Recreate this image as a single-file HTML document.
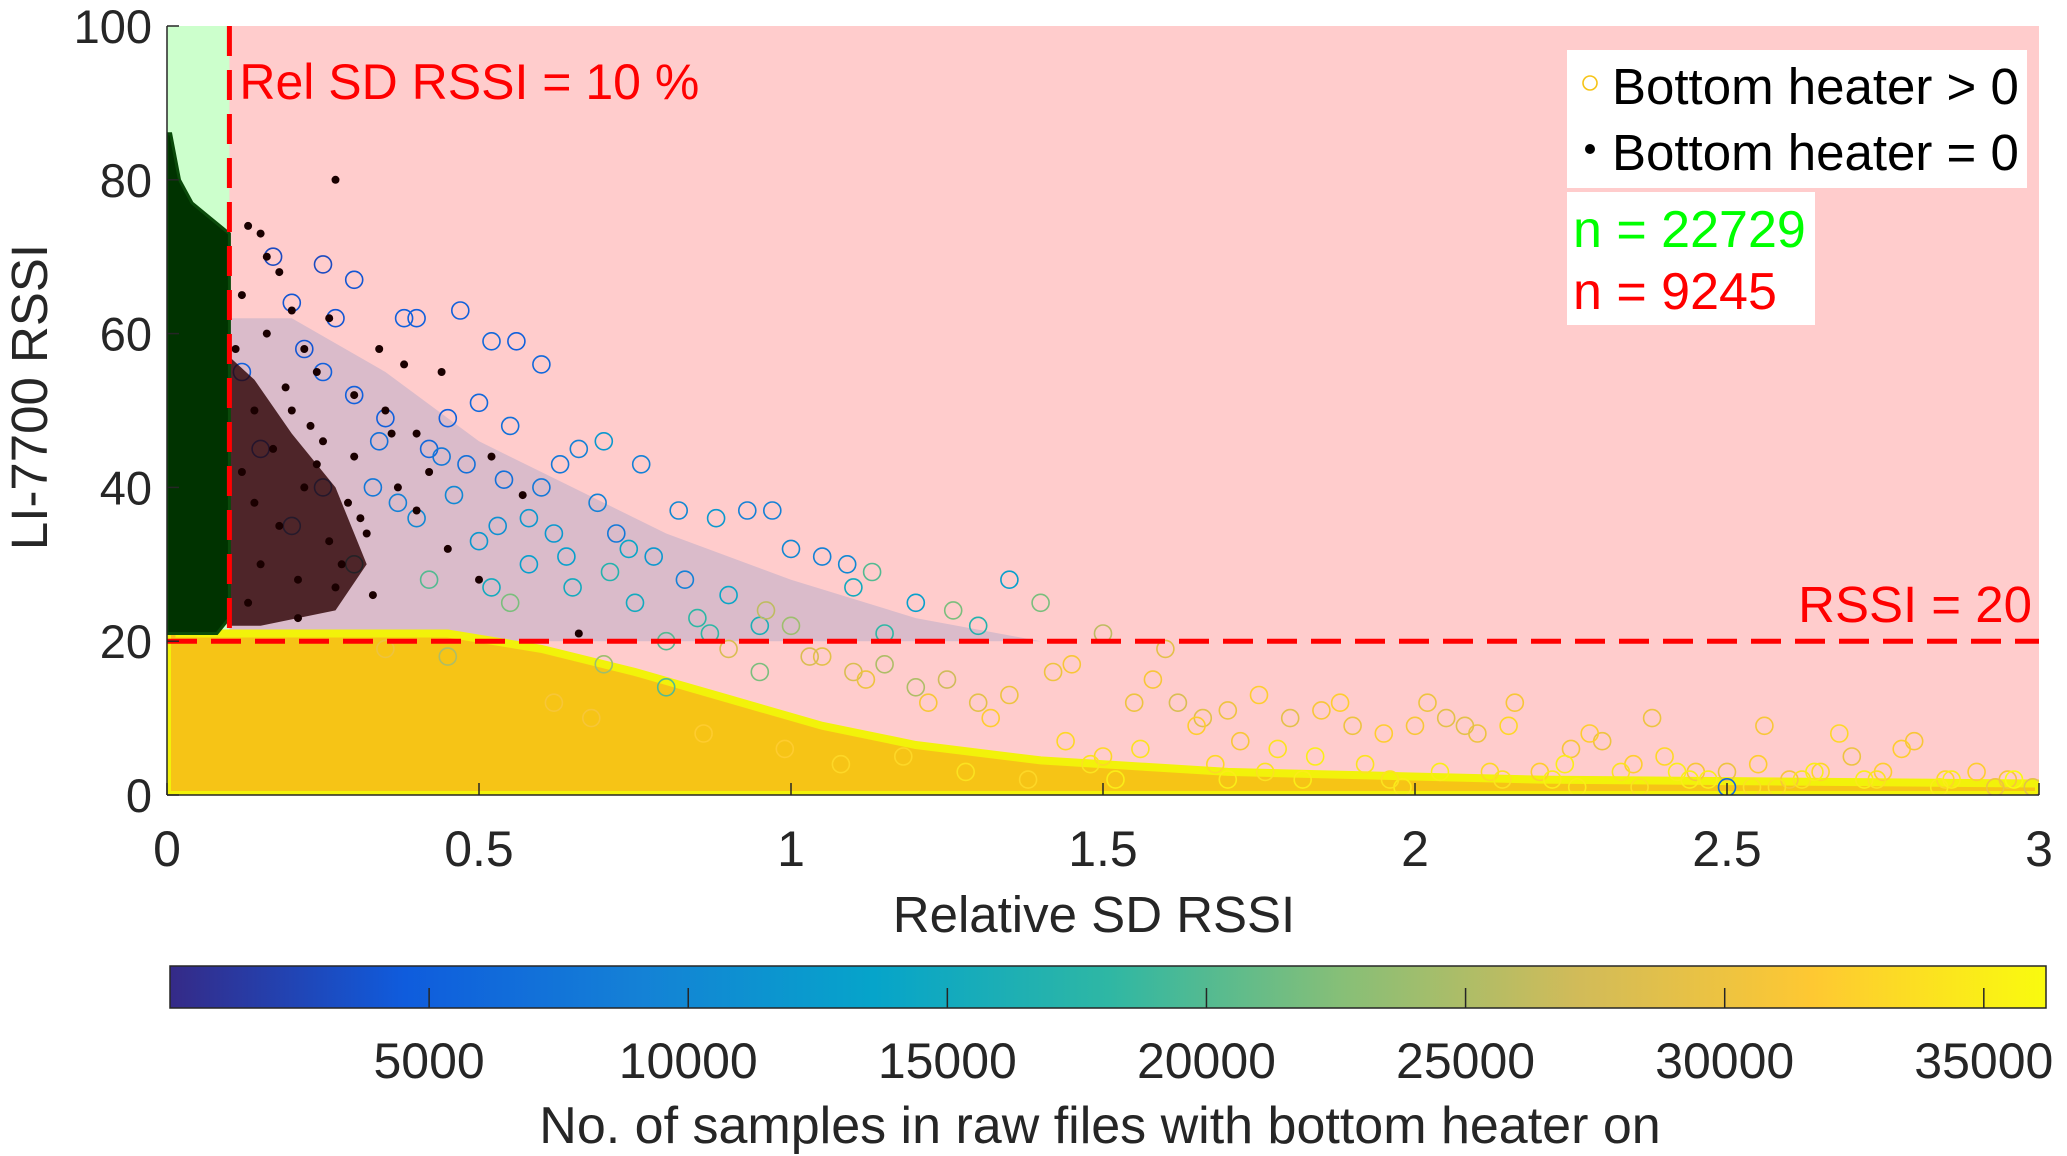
<!DOCTYPE html>
<html><head><meta charset="utf-8"><style>
html,body{margin:0;padding:0;background:#fff;}
svg{display:block;font-family:"Liberation Sans",Arial,sans-serif;}
</style></head><body>
<svg id="chart" width="2067" height="1156" viewBox="0 0 2067 1156" xmlns="http://www.w3.org/2000/svg">
<defs>
<linearGradient id="parula" x1="0" x2="1" y1="0" y2="0">
<stop offset="0" stop-color="#352a87"/><stop offset="0.125" stop-color="#0f5cdd"/><stop offset="0.25" stop-color="#1481d6"/><stop offset="0.375" stop-color="#06a4ca"/><stop offset="0.5" stop-color="#2eb7a4"/><stop offset="0.625" stop-color="#87bf77"/><stop offset="0.75" stop-color="#d1bb59"/><stop offset="0.875" stop-color="#fec832"/><stop offset="1" stop-color="#f9fb0e"/>
</linearGradient>
<clipPath id="plotclip"><rect x="167" y="26" width="1872" height="769"/></clipPath>
</defs>
<g id="plot" clip-path="url(#plotclip)"></g>
<g id="axes"></g>
</svg>
<script>
const xTicks=[0,0.5,1,1.5,2,2.5,3];
const xTickLabels=["0","0.5","1","1.5","2","2.5","3"];
const yTicks=[0,20,40,60,80,100];
const yTickLabels=["0","20","40","60","80","100"];
const cbTicks=[5000,10000,15000,20000,25000,30000,35000];
const cbTickLabels=["5000","10000","15000","20000","25000","30000","35000"];
const relSdThreshold=0.1;
const rssiThreshold=20;
const nGood=22729;
const nBad=9245;
// open circles: x (rel SD), y (RSSI), c (samples with heater on)
const heaterOnX=[0.17,0.25,0.3,0.2,0.27,0.38,0.4,0.47,0.56,0.52,0.6,0.5,0.55,0.45,0.66,0.7,0.63,0.76,0.82,0.93,0.88,0.97,1.0,1.05,1.09,1.13,1.1,1.2,1.35,1.4,1.26,0.78,0.72,0.69,0.6,0.54,0.48,0.42,0.35,0.3,0.25,0.22,0.33,0.4,0.5,0.58,0.65,0.75,0.85,0.9,0.95,0.42,0.55,0.3,0.2,0.25,0.15,0.12,1.15,1.3,1.5,1.6,1.0,0.8,1.45,1.55,1.62,1.7,1.75,1.8,1.85,1.9,1.95,2.0,2.05,2.1,2.15,2.2,2.25,2.3,2.35,2.4,2.45,2.5,2.55,2.6,2.65,2.7,2.75,2.8,2.85,2.9,2.95,2.99,1.42,1.58,1.66,1.72,1.88,2.02,2.08,2.16,2.28,2.38,2.56,2.68,2.78,1.5,1.65,1.78,1.92,2.12,2.22,2.33,2.47,2.62,2.72,2.86,2.93,1.2,1.3,1.1,1.25,1.35,1.05,1.15,0.9,0.95,0.7,0.8,0.45,0.35,0.62,0.68,0.86,0.99,1.08,1.18,1.28,1.38,1.48,1.82,2.42,2.58,1.52,1.7,1.98,2.26,2.5,0.34,0.44,0.37,0.46,0.53,0.62,0.74,0.83,0.58,0.64,0.52,0.71,0.87,0.96,1.03,1.12,1.22,1.32,1.44,1.56,1.68,1.76,1.84,1.96,2.04,2.14,2.24,2.36,2.44,2.54,2.64,2.74,2.84,2.96];
const heaterOnY=[70,69,67,64,62,62,62,63,59,59,56,51,48,49,45,46,43,43,37,37,36,37,32,31,30,29,27,25,28,25,24,31,34,38,40,41,43,45,49,52,55,58,40,36,33,30,27,25,23,26,22,28,25,30,35,40,45,55,21,22,21,19,22,20,17,12,12,11,13,10,11,9,8,9,10,8,9,3,6,7,4,5,3,3,4,2,3,5,3,7,2,3,2,1,16,15,10,7,12,12,9,12,8,10,9,8,6,5,9,6,4,3,2,3,2,2,2,2,1,14,12,16,15,13,18,17,19,16,17,14,18,19,12,10,8,6,4,5,3,2,4,2,3,1,2,2,1,1,1,46,44,38,39,35,34,32,28,36,31,27,29,21,24,18,15,12,10,7,6,4,3,5,2,3,2,4,1,2,1,3,2,1,2];
const heaterOnC=[3000,3000,4000,4000,4000,5000,5000,5000,5000,6000,6000,6000,7000,5000,9000,12000,8000,9000,10000,9000,12000,9000,10000,9000,10000,20000,15000,13000,13000,22000,22000,12000,8000,9000,8000,7000,7000,6000,5000,5000,5000,4000,8000,10000,12000,13000,15000,15000,18000,14000,16000,20000,22000,15000,9000,8000,6000,5000,18000,17000,26000,29000,24000,20000,31000,30000,28000,30000,32000,29000,31000,30000,32000,31000,29000,30000,33000,32000,31000,30000,32000,33000,31000,30000,32000,31000,33000,30000,32000,31000,33000,32000,31000,29000,30000,31000,29000,31000,32000,30000,29000,31000,32000,30000,31000,33000,32000,33000,32000,34000,34000,33000,35000,34000,35000,34000,35000,35000,30000,25000,29000,28000,27000,30000,29000,25000,28000,22000,24000,20000,25000,30000,31000,31000,32000,32000,33000,33000,34000,33000,34000,35000,35000,34000,35000,35000,35000,35000,6000,7000,8000,9000,10000,11000,12000,14000,9000,12000,13000,15000,17000,18000,26000,28000,30000,31000,32000,33000,34000,33000,34000,35000,34000,35000,34000,35000,34000,35000,34000,35000,34000,35000];
// black dots: heater off
const heaterOffX=[0.27,0.13,0.15,0.16,0.18,0.12,0.2,0.26,0.22,0.34,0.38,0.44,0.3,0.24,0.35,0.2,0.4,0.42,0.36,0.52,0.57,0.3,0.25,0.14,0.17,0.22,0.29,0.12,0.18,0.26,0.15,0.21,0.13,0.33,0.45,0.5,0.4,0.37,0.28,0.66,0.19,0.23,0.31,0.16,0.11,0.14,0.24,0.27,0.32,0.21];
const heaterOffY=[80,74,73,70,68,65,63,62,58,58,56,55,52,55,50,50,47,42,47,44,39,44,46,50,45,40,38,42,35,33,30,28,25,26,32,28,37,40,30,21,53,48,36,60,58,38,43,27,34,23];

const X0=167,X1=2039,Y0=795,Y1=26;
const xS=v=>X0+(v-0)/(3-0)*(X1-X0);
const yS=v=>Y0-(v-0)/(100-0)*(Y0-Y1);
const CB0=170,CB1=2046,CBmin=0,CBmax=36200;
const cS=v=>CB0+(v-CBmin)/(CBmax-CBmin)*(CB1-CB0);
const stops=[[0,[53,42,135]],[0.125,[15,92,221]],[0.25,[20,129,214]],[0.375,[6,164,202]],[0.5,[46,183,164]],[0.625,[135,191,119]],[0.75,[209,187,89]],[0.875,[254,200,50]],[1,[249,251,14]]];
function cmap(v){let t=Math.max(0,Math.min(1,(v-CBmin)/(CBmax-CBmin)));for(let i=1;i<stops.length;i++){if(t<=stops[i][0]){const a=stops[i-1],b=stops[i];const f=(t-a[0])/(b[0]-a[0]);const c=a[1].map((x,k)=>Math.round(x+(b[1][k]-x)*f));return `rgb(${c.join(',')})`;}}return 'rgb(249,251,14)';}
const NS='http://www.w3.org/2000/svg';
function mk(tag,attrs,parent){const e=document.createElementNS(NS,tag);for(const k in attrs)e.setAttribute(k,attrs[k]);parent.appendChild(e);return e;}
const plot=document.getElementById('plot'),axes=document.getElementById('axes');
function poly(pts){return pts.map(p=>xS(p[0]).toFixed(1)+','+yS(p[1]).toFixed(1)).join(' ');}

let e;
e=mk('rect',{x:X0,y:Y1,width:X1-X0,height:Y0-Y1,fill:'#ffcccc'},plot);


e=mk('rect',{x:X0,y:Y1,width:xS(relSdThreshold)-X0,height:yS(rssiThreshold)-Y1,fill:'#ccffcc'},plot);


// dense blue/teal cloud
e=mk('polygon',{points:poly([[0.1,20],[0.1,62],[0.2,62],[0.35,55],[0.5,46],[0.65,40],[0.8,34],[1.0,28],[1.2,23],[1.4,20]]),fill:'#7a8fc6','fill-opacity':0.28},plot);


// dense yellow band
e=mk('polygon',{points:poly([[0,0],[0,31],[0.02,31],[0.02,21],[0.45,21],[0.6,19],[0.75,16],[0.9,12.5],[1.05,9],[1.2,6.5],[1.4,4.5],[1.7,3],[2.2,2],[3,1.5],[3,0]]),fill:'#f6c416',stroke:'#f2f20a','stroke-width':8},plot);


// open circles
for(let i=0;i<heaterOnX.length;i++){
  e=mk('circle',{cx:xS(heaterOnX[i]).toFixed(1),cy:yS(heaterOnY[i]).toFixed(1),r:8.5,fill:'none',stroke:cmap(heaterOnC[i]),'stroke-width':1.6},plot);
  
  
}
// dark cluster of heater-off dots
e=mk('polygon',{points:poly([[0.1,22],[0.1,57],[0.14,54],[0.2,47],[0.27,40],[0.32,30],[0.27,24],[0.15,22]]),fill:'#2a0000','fill-opacity':0.8},plot);


for(let i=0;i<heaterOffX.length;i++){
  e=mk('circle',{cx:xS(heaterOffX[i]).toFixed(1),cy:yS(heaterOffY[i]).toFixed(1),r:4,fill:'#1a0000'},plot);
  
  
}
// green blob
e=mk('polygon',{points:poly([[0,21],[0,86],[0.006,86],[0.02,80],[0.04,77],[0.07,75],[0.1,73],[0.1,23],[0.08,21]]),fill:'#003300',stroke:'#0a4a0a','stroke-width':3},plot);


// threshold lines
e=mk('line',{x1:xS(relSdThreshold),x2:xS(relSdThreshold),y1:Y1,y2:yS(rssiThreshold),stroke:'#ff0000','stroke-width':5,'stroke-dasharray':'30,14'},plot);


e=mk('line',{x1:X0,x2:X1,y1:yS(rssiThreshold),y2:yS(rssiThreshold),stroke:'#ff0000','stroke-width':5,'stroke-dasharray':'30,14'},plot);


e=mk('text',{x:xS(relSdThreshold)+10,y:99,fill:'#ff0000','font-size':50},plot);
e.textContent='Rel SD RSSI = 10 %';


e=mk('text',{x:2032,y:622,fill:'#ff0000','font-size':51,'text-anchor':'end'},plot);
e.textContent='RSSI = 20';


// legend
e=mk('rect',{x:1567,y:50,width:460,height:138,fill:'#fff'},plot);


e=mk('circle',{cx:1590,cy:83,r:7,fill:'none',stroke:'#f6c416','stroke-width':1.6},plot);


e=mk('text',{x:1612,y:104,'font-size':51,fill:'#000'},plot);
e.textContent='Bottom heater > 0';


e=mk('circle',{cx:1590,cy:149,r:5,fill:'#000'},plot);


e=mk('text',{x:1612,y:170,'font-size':51,fill:'#000'},plot);
e.textContent='Bottom heater = 0';


e=mk('rect',{x:1567,y:192,width:248,height:133,fill:'#fff'},plot);


e=mk('text',{x:1573,y:247,'font-size':52,fill:'#00ff00'},plot);
e.textContent='n = '+nGood;


e=mk('text',{x:1573,y:309,'font-size':52,fill:'#ff0000'},plot);
e.textContent='n = '+nBad;



// axes
e=mk('line',{x1:X0,x2:X1,y1:Y0,y2:Y0,stroke:'#262626','stroke-width':1.5},axes);


e=mk('line',{x1:X0,x2:X0,y1:Y0,y2:Y1,stroke:'#262626','stroke-width':1.5},axes);


xTicks.forEach((v,i)=>{
  e=mk('line',{x1:xS(v),x2:xS(v),y1:Y0,y2:Y0-12,stroke:'#262626','stroke-width':1.5},axes);
  
  
  e=mk('text',{x:xS(v),y:866,'font-size':50,fill:'#262626','text-anchor':'middle'},axes);
  e.textContent=xTickLabels[i];
  
  
});
yTicks.forEach((v,i)=>{
  e=mk('line',{x1:X0,x2:X0+12,y1:yS(v),y2:yS(v),stroke:'#262626','stroke-width':1.5},axes);
  
  
  e=mk('text',{x:152,y:yS(v)+17,'font-size':47,fill:'#262626','text-anchor':'end'},axes);
  e.textContent=yTickLabels[i];
  
  
});
e=mk('text',{x:1094,y:932,'font-size':51,fill:'#262626','text-anchor':'middle'},axes);
e.textContent='Relative SD RSSI';


e=mk('text',{x:0,y:0,'font-size':51,fill:'#262626','text-anchor':'middle',transform:'translate(47,397) rotate(-90)'},axes);
e.textContent='LI-7700 RSSI';


// colorbar
e=mk('rect',{x:CB0,y:966,width:CB1-CB0,height:42,fill:'url(#parula)',stroke:'#262626','stroke-width':1.5},axes);


cbTicks.forEach((v,i)=>{
  e=mk('line',{x1:cS(v),x2:cS(v),y1:1008,y2:988,stroke:'#262626','stroke-width':1.5},axes);
  
  
  e=mk('text',{x:cS(v),y:1078,'font-size':50,fill:'#262626','text-anchor':'middle'},axes);
  e.textContent=cbTickLabels[i];
  
  
});
e=mk('text',{x:1100,y:1143,'font-size':52,fill:'#262626','text-anchor':'middle'},axes);
e.textContent='No. of samples in raw files with bottom heater on';


</script>
</body></html>
